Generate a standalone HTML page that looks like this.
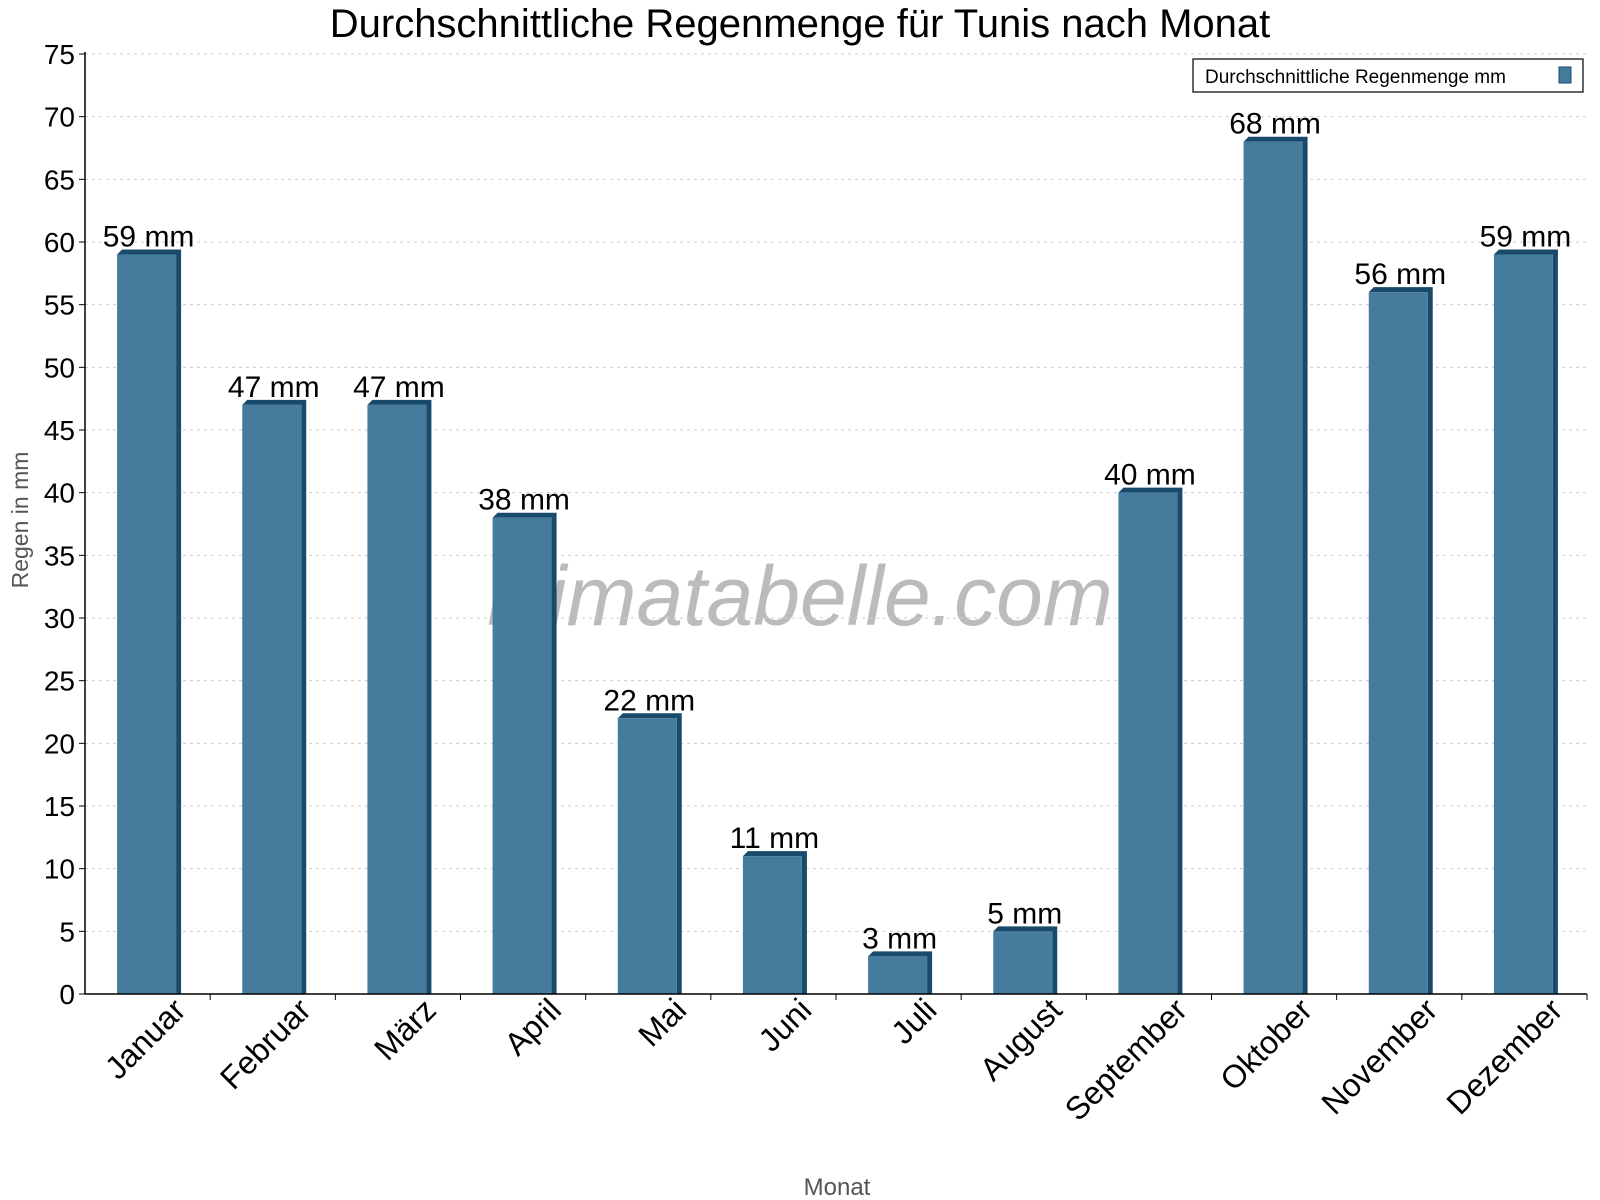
<!DOCTYPE html>
<html><head><meta charset="utf-8"><style>body{margin:0;background:#fff}svg{display:block;font-family:"Liberation Sans",sans-serif}</style></head>
<body>
<svg id="chart" width="1600" height="1200" viewBox="0 0 1600 1200">
<text x="800" y="37" text-anchor="middle" font-size="40">Durchschnittliche Regenmenge für Tunis nach Monat</text>
<text x="800" y="625" text-anchor="middle" font-size="84" font-style="italic" fill="#bbb">klimatabelle.com</text>
<g id="grid"></g><g id="bars"></g><g id="axes"></g>
<text transform="translate(28,520) rotate(-90)" text-anchor="middle" font-size="23" fill="#555">Regen in mm</text>
<text x="837" y="1195" text-anchor="middle" font-size="24" fill="#555">Monat</text>
<g>
<rect x="1193" y="59" width="390" height="33" fill="#fff" stroke="#000" stroke-width="1.2"/>
<text x="1205" y="83" font-size="19">Durchschnittliche Regenmenge mm</text>
<rect x="1559" y="67" width="12" height="16" fill="#457b9d" stroke="#1a4a6b"/>
</g>
</svg>
<script>
const categories=["Januar","Februar","März","April","Mai","Juni","Juli","August","September","Oktober","November","Dezember"];
const values=[59,47,47,38,22,11,3,5,40,68,56,59];
const yTicks=[0,5,10,15,20,25,30,35,40,45,50,55,60,65,70,75];
const NS="http://www.w3.org/2000/svg";
const X0=85,X1=1587,Y0=994,Y1=54;
const cw=(X1-X0)/categories.length;
const y=v=>Y0-(v/75)*(Y0-Y1);
const xc=i=>X0+cw*(i+0.5);
function mk(t,a,p){const e=document.createElementNS(NS,t);for(const k in a)e.setAttribute(k,a[k]);p.appendChild(e);return e;}
const grid=document.getElementById('grid'),bars=document.getElementById('bars'),axes=document.getElementById('axes');
yTicks.forEach(v=>{
 if(v>0){const g=mk('line',{x1:X0,x2:X1,y1:y(v),y2:y(v),stroke:'#ccc','stroke-dasharray':'3,4'},grid);
 
 }
 const t=mk('line',{x1:X0-6,x2:X0,y1:y(v),y2:y(v),stroke:'#000'},axes);
 
 
 const l=mk('text',{x:X0-10,y:y(v)+10,'text-anchor':'end','font-size':'28'},axes);
 l.textContent=v;
 
 
});
const bw=59,d=5;
categories.forEach((c,i)=>{
 const cx=xc(i)-1,left=cx-bw/2,top=y(values[i]);
 const g=mk('g',{},bars);
 
 
 mk('polygon',{points:`${left},${top} ${left+d},${top-d} ${left+bw+d},${top-d} ${left+bw+d},${Y0} ${left+bw},${Y0} ${left+bw},${top}`,fill:'#1a4a6b'},g);
 mk('rect',{x:left,y:top,width:bw,height:Y0-top,fill:'#457b9d'},g);
 const vl=mk('text',{x:cx+2,y:top-8,'text-anchor':'middle','font-size':'30'},bars);
 vl.textContent=values[i]+' mm';
 
 
 const tk=mk('line',{x1:X0+cw*(i+1),x2:X0+cw*(i+1),y1:Y0,y2:Y0+6,stroke:'#000'},axes);
 
 
 const ml=mk('text',{transform:`translate(${xc(i)+40},1012) rotate(-45)`,'text-anchor':'end','font-size':'32'},axes);
 ml.textContent=c;
 
 
});
const ya=mk('line',{x1:X0,x2:X0,y1:Y1-2,y2:Y0,stroke:'#000','stroke-width':1.5},axes);


const xa=mk('line',{x1:X0,x2:X1,y1:Y0,y2:Y0,stroke:'#000','stroke-width':1.5},axes);


</script>
</body></html>
